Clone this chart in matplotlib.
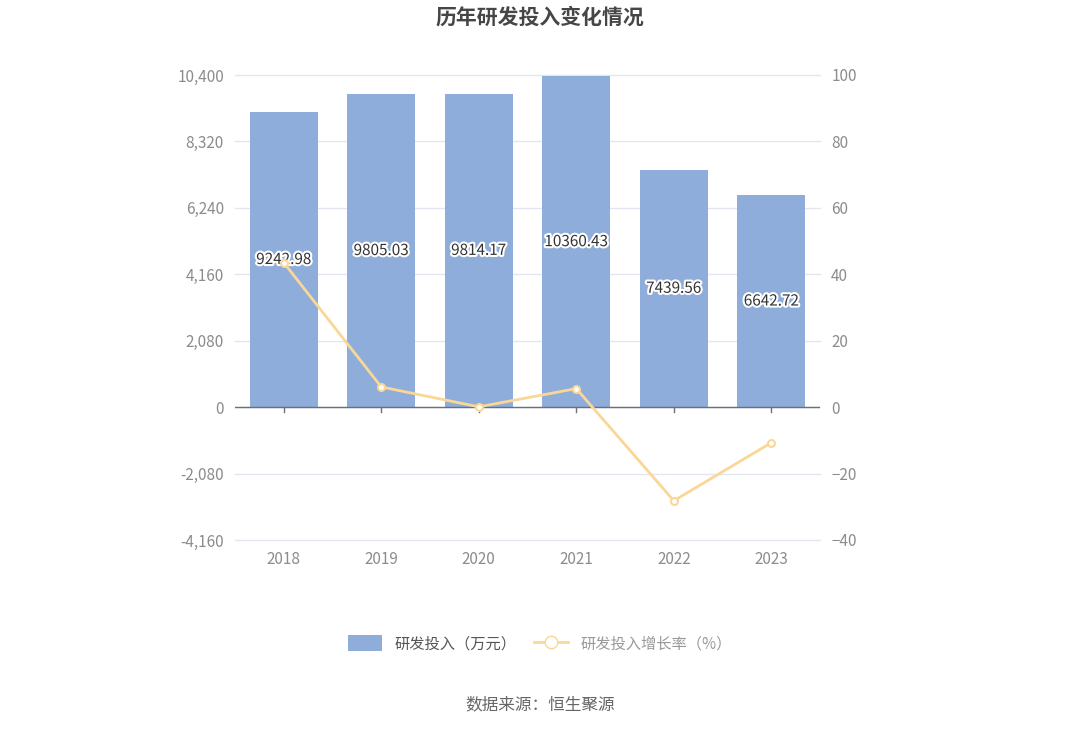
import numpy as np
import matplotlib.pyplot as plt
import matplotlib.patheffects as pe
from matplotlib.lines import Line2D
from matplotlib.patches import Patch

plt.rcParams['font.family'] = ['Noto Sans CJK SC', 'DejaVu Sans']

years = ['2018', '2019', '2020', '2021', '2022', '2023']
rd_invest = [9242.98, 9805.03, 9814.17, 10360.43, 7439.56, 6642.72]
growth = [43.5, 6.08, 0.09, 5.57, -28.19, -10.71]
left_ticks = [-4160, -2080, 0, 2080, 4160, 6240, 8320, 10400]
right_ticks = [-40, -20, 0, 20, 40, 60, 80, 100]

bar_color = '#8eadda'
line_color = '#fad797'
grid_color = '#e3e6f0'
text_color = '#8c8c8c'

fig = plt.figure(figsize=(10.8, 7.3), dpi=100)
ax = fig.add_axes([0.2176, 0.2603, 0.5417, 0.6370])
x = np.arange(len(years))

ax.set_ylim(-4160, 10400)
ax.set_yticks(left_ticks)
ax.set_yticklabels([f'{v:,}' for v in left_ticks])
ax.grid(axis='y', color=grid_color, linewidth=1, clip_on=False)
ax.set_axisbelow(True)
ax.bar(x, rd_invest, width=0.7, color=bar_color, zorder=2)
ax.set_xlim(-0.5, len(years) - 0.5)
ax.set_xticks([])
for s in ax.spines.values():
    s.set_visible(False)
ax.axhline(0, color='#6e7079', linewidth=1, zorder=3)
for xi in x:
    ax.plot([xi, xi], [0, -150], color='#6e7079', linewidth=1, zorder=3, clip_on=False)
    ax.text(xi, -4160 - 330, years[xi], ha='center', va='top', color=text_color, fontsize=11)
ax.tick_params(axis='y', length=0, labelsize=11, labelcolor=text_color, pad=8)

for xi, v in zip(x, rd_invest):
    ax.text(xi, v / 2, f'{v:.2f}', ha='center', va='center', fontsize=11, color='#333333',
            zorder=6, path_effects=[pe.withStroke(linewidth=3, foreground='white')])

ax2 = ax.twinx()
ax2.set_ylim(-40, 100)
ax2.set_yticks(right_ticks)
for s in ax2.spines.values():
    s.set_visible(False)
ax2.tick_params(axis='y', length=0, labelsize=11, labelcolor=text_color, pad=8)
ax2.plot(x, growth, color=line_color, linewidth=2, marker='o', markersize=5,
         markerfacecolor='white', markeredgecolor=line_color, markeredgewidth=1.5, zorder=5)

fig.text(0.5, 0.977, '历年研发投入变化情况', ha='center', va='center', fontsize=15,
         fontweight='bold', color='#464646')

handles = [Patch(facecolor=bar_color, edgecolor='none'),
           Line2D([0], [0], color=line_color, linewidth=2, marker='o', markersize=9,
                  markerfacecolor='white', markeredgecolor=line_color)]
leg = fig.legend(handles, ['研发投入（万元）', '研发投入增长率（%）'], loc='center',
                 bbox_to_anchor=(0.5, 0.118), ncol=2, frameon=False, fontsize=11,
                 handlelength=2.2, handleheight=1.2, columnspacing=1.2)
for t, c in zip(leg.get_texts(), ['#555555', '#999999']):
    t.set_color(c)

fig.text(0.5, 0.035, '数据来源：恒生聚源', ha='center', va='center', fontsize=12, color='#666666')

fig.savefig('out.png', dpi=100)
